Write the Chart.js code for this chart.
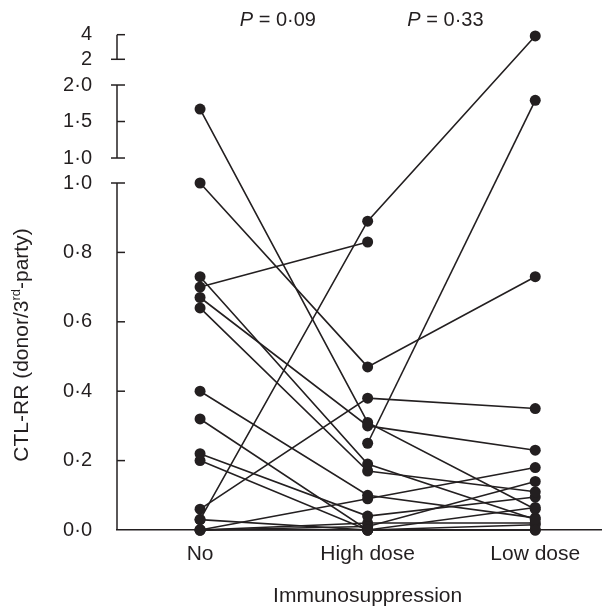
<!DOCTYPE html>
<html>
<head>
<meta charset="utf-8">
<script src="https://cdn.jsdelivr.net/npm/chart.js@4.4.1/dist/chart.umd.min.js"></script>
<style>
  html, body { margin: 0; padding: 0; background: #fff; }
  #wrap { width: 607px; height: 608px; }
</style>
</head>
<body>
<div id="wrap"><canvas id="chart"></canvas></div>
<script>
const categories = ['No', 'High dose', 'Low dose'];

// one entry per patient, null where no value
const noDose   = [1.67, 1.00, 0.73, 0.70, 0.67, 0.64, 0.40, 0.32, 0.22, 0.20, 0.06, 0.03, 0.00, 0.00, null, 0.03, 0.00, 0.00];
const highDose = [0.31, 0.47, 0.19, 0.83, 0.30, 0.17, 0.10, 0.00, 0.04, 0.00, 0.38, 0.89, 0.09, 0.01, 0.25, 0.00, 0.00, 0.02];
const lowDose  = [0.06, 0.73, 0.03, null, 0.23, 0.11, 0.035, 0.00, 0.095, 0.065, 0.35, 3.9, 0.18, 0.14, 1.79, 0.015, 0.00, 0.02];

// broken y axis: three segments
const lowTicks = [0, 0.2, 0.4, 0.6, 0.8, 1.0];
const midTicks = [1.0, 1.5, 2.0];
const topTicks = [2, 4];
const lowLabels = ['0·0', '0·2', '0·4', '0·6', '0·8', '1·0'];
const midLabels = ['1·0', '1·5', '2·0'];
const topLabels = ['2', '4'];

const pValues = ['0·09', '0·33'];

const INK = '#231f20';
const FONT = "'Liberation Sans', Arial, Helvetica, sans-serif";

// value -> position on the drawn axis (units of the lower segment)
const MID_START = 1.072, MID_PER = 0.2104;
const TOP_START = 1.3565, TOP_PER = 0.03545;
function segLow(v) { return v; }
function segMid(v) { return MID_START + (v - 1) * MID_PER; }
function segTop(v) { return TOP_START + (v - 2) * TOP_PER; }
function brk(v) {
  if (v === null) return null;
  if (v <= 1) return segLow(v);
  if (v <= 2) return segMid(v);
  return segTop(v);
}

const tickPos = [...lowTicks.map(segLow), ...midTicks.map(segMid), ...topTicks.map(segTop)];
const tickText = [...lowLabels, ...midLabels, ...topLabels];

const datasets = noDose.map((_, i) => ({
  data: [noDose[i], highDose[i], lowDose[i]].map((v, x) => ({ x: x, y: brk(v) })),
  borderColor: INK,
  borderWidth: 1.6,
  pointRadius: 5.5,
  pointBackgroundColor: INK,
  pointBorderWidth: 0,
  spanGaps: false,
  clip: false
}));

const axisPlugin = {
  id: 'brokenAxis',
  beforeDatasetsDraw(chart) {
    const ctx = chart.ctx;
    const y = chart.scales.y;
    const ax = chart.chartArea.left;
    const py = v => y.getPixelForValue(v);
    ctx.save();
    ctx.strokeStyle = INK;
    ctx.lineWidth = 1.5;
    const segs = [
      [segLow(0), segLow(1)],
      [segMid(1), segMid(2)],
      [segTop(2), segTop(4)]
    ];
    segs.forEach(s => {
      ctx.beginPath();
      ctx.moveTo(ax, py(s[0]));
      ctx.lineTo(ax, py(s[1]));
      ctx.stroke();
    });
    const tick = (v, l, r) => {
      ctx.beginPath();
      ctx.moveTo(ax - l, py(v));
      ctx.lineTo(ax + r, py(v));
      ctx.stroke();
    };
    lowTicks.slice(1, -1).forEach(v => tick(segLow(v), 0, 8));
    tick(segLow(1), 6, 8);
    tick(segMid(1), 6, 8);
    tick(segMid(1.5), 0, 8);
    tick(segMid(2), 6, 8);
    tick(segTop(2), 6, 8);
    tick(segTop(4), 0, 8);
    ctx.restore();
  },
  afterDraw(chart) {
    const ctx = chart.ctx;
    const xs = chart.scales.x;
    ctx.save();
    ctx.fillStyle = INK;
    ctx.textBaseline = 'middle';

    // y title with superscript
    ctx.translate(22, 345);
    ctx.rotate(-Math.PI / 2);
    const big = '21px ' + FONT, small = '13px ' + FONT;
    const parts = [['CTL-RR (donor/3', big, 0], ['rd', small, -6], ['-party)', big, 0]];
    let total = 0;
    parts.forEach(p => { ctx.font = p[1]; total += ctx.measureText(p[0]).width; });
    let cx = -total / 2;
    ctx.textAlign = 'left';
    parts.forEach(p => {
      ctx.font = p[1];
      ctx.fillText(p[0], cx, p[2]);
      cx += ctx.measureText(p[0]).width;
    });
    ctx.setTransform(1, 0, 0, 1, 0, 0);

    // x title
    ctx.font = '21px ' + FONT;
    ctx.textAlign = 'center';
    ctx.fillText('Immunosuppression', (xs.getPixelForValue(0) + xs.getPixelForValue(2)) / 2, 596);

    // P values between groups
    pValues.forEach((p, i) => {
      const mid = (xs.getPixelForValue(i) + xs.getPixelForValue(i + 1)) / 2 - 6;
      ctx.font = 'italic 20px ' + FONT;
      const a = 'P';
      const wa = ctx.measureText(a).width;
      ctx.font = '20px ' + FONT;
      const b = ' = ' + p;
      const wb = ctx.measureText(b).width;
      const start = mid - (wa + wb) / 2;
      ctx.textAlign = 'left';
      ctx.font = 'italic 20px ' + FONT;
      ctx.fillText(a, start, 20);
      ctx.font = '20px ' + FONT;
      ctx.fillText(b, start + wa, 20);
    });
    ctx.restore();
  }
};

new Chart(document.getElementById('chart'), {
  type: 'line',
  data: { datasets },
  options: {
    responsive: true,
    maintainAspectRatio: false,
    animation: false,
    layout: { padding: { top: 9.5, left: 0, right: 0, bottom: 0 } },
    plugins: { legend: { display: false }, tooltip: { enabled: false } },
    scales: {
      x: {
        type: 'linear',
        position: 'bottom',
        bounds: 'data',
        min: -0.4956,
        max: 2.3953,
        afterBuildTicks: s => { s.ticks = categories.map((_, i) => ({ value: i })); },
        afterFit: s => { s.height = 78; s.paddingLeft = 0; s.paddingRight = 0; },
        grid: { display: false },
        border: { display: true, color: INK, width: 1.5 },
        ticks: {
          autoSkip: false,
          maxRotation: 0,
          padding: 4,
          color: INK,
          font: { family: FONT, size: 21 },
          callback: (v, i) => categories[i]
        }
      },
      y: {
        type: 'linear',
        position: 'left',
        bounds: 'data',
        min: 0,
        max: 1.5,
        afterBuildTicks: s => { s.ticks = tickPos.map(v => ({ value: v })); },
        afterFit: s => { s.width = 117; s.paddingTop = 0; s.paddingBottom = 0; },
        grid: { display: false },
        border: { display: false },
        ticks: {
          autoSkip: false,
          padding: 17,
          color: INK,
          font: { family: FONT, size: 20 },
          callback: (v, i) => tickText[i]
        }
      }
    }
  },
  plugins: [axisPlugin]
});
</script>
</body>
</html>
